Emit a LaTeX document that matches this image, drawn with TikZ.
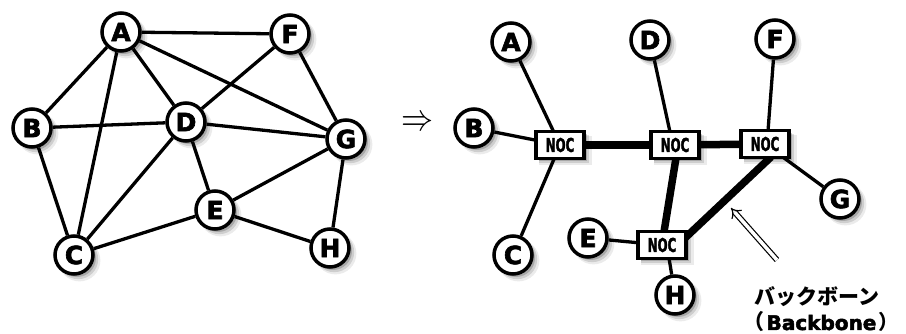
\documentclass[tikz,border=0pt]{standalone}
\usepackage{fontspec}
\setmainfont{Liberation Sans}
\newfontfamily\jpfont{Noto Sans CJK JP}
\newfontfamily\heavyfont[FakeBold=2.5]{DejaVu Sans Bold}
\newfontfamily\nocfont[FakeBold=2]{DejaVu Sans Bold}
\usetikzlibrary{shadows,arrows.meta}
\pgfdeclarelayer{bg}
\pgfdeclarelayer{edges}
\pgfsetlayers{bg,edges,main}
\tikzset{
  shade3/.style={
    drop shadow={shadow xshift=5pt, shadow yshift=-5pt, shadow scale=1.1, opacity=0.08, fill=black},
    drop shadow={shadow xshift=4pt, shadow yshift=-4pt, shadow scale=1.05, opacity=0.12, fill=black},
    drop shadow={shadow xshift=3pt, shadow yshift=-3pt, opacity=0.18, fill=black}},
  host/.style={circle, draw=black, line width=3.5pt, fill=white, minimum size=38pt, inner sep=0pt,
    font=\heavyfont\fontsize{25}{25}\selectfont, shade3},
  noc/.style={rectangle, draw=black, line width=3.3pt, fill=white, minimum width=48pt, minimum height=27pt, inner sep=0pt,
    font=\nocfont\fontsize{19}{19}\selectfont, shade3},
  link/.style={line width=3.3pt, black},
  bone/.style={line width=7.5pt, black},
}
\newcommand{\noctext}{\scalebox{0.62}[1]{NOC}}
\begin{document}
\begin{tikzpicture}[x=1pt,y=-1pt]
\begin{pgfonlayer}{bg}
\fill[white] (0,0) rectangle (906,334);
\end{pgfonlayer}
\useasboundingbox (0,0) rectangle (906,334);
% left graph
\node[host] (lA) at (121,32) {A};
\node[host] (lF) at (290,34) {F};
\node[host] (lB) at (32,128) {B};
\node[host] (lD) at (186,122) {D};
\node[host] (lG) at (346,139) {G};
\node[host] (lE) at (215,210) {E};
\node[host] (lC) at (74,255) {C};
\node[host] (lH) at (330,248) {H};
\begin{pgfonlayer}{edges}
\draw[link] (lA) -- (lF);
\draw[link] (lA) -- (lB);
\draw[link] (lA) -- (lC);
\draw[link] (lA) -- (lD);
\draw[link] (lA) -- (lG);
\draw[link] (lF) -- (lD);
\draw[link] (lF) -- (lG);
\draw[link] (lB) -- (lD);
\draw[link] (lB) -- (lC);
\draw[link] (lD) -- (lG);
\draw[link] (lD) -- (lC);
\draw[link] (lD) -- (lE);
\draw[link] (lE) -- (lG);
\draw[link] (lE) -- (lC);
\draw[link] (lE) -- (lH);
\draw[link] (lG) -- (lH);
\end{pgfonlayer}
% arrow sign
\node[inner sep=0pt] (imp) at (417,124) {\scalebox{3.2}[3.8]{$\Rightarrow$}};
% right graph
\node[host] (rA) at (511,42) {A};
\node[host] (rD) at (650,40) {D};
\node[host] (rF) at (775,39) {F};
\node[host] (rB) at (474,128) {B};
\node[host] (rG) at (840,199) {G};
\node[host] (rE) at (588,238) {E};
\node[host] (rC) at (513,255) {C};
\node[host] (rH) at (675,295) {H};
\node[noc] (n1) at (560,145) {\noctext};
\node[noc] (n2) at (675,145) {\noctext};
\node[noc] (n3) at (765,144) {\noctext};
\node[noc] (n4) at (662,245) {\noctext};
\coordinate (n2t) at (670,132);
\coordinate (n2b) at (676,158);
\coordinate (n3t) at (768,131);
\coordinate (n3b) at (771,157);
\coordinate (n4t) at (664,232);
\coordinate (n4r) at (685,238);
\coordinate (n4b) at (669,258);
\begin{pgfonlayer}{edges}
\draw[link] (rA) -- (n1.center);
\draw[link] (rB) -- (n1.center);
\draw[link] (rC) -- (n1.center);
\draw[link] (rD) -- (n2t);
\draw[link] (rF) -- (n3t);
\draw[link] (rG) -- (n3.center);
\draw[link] (rE) -- (n4.center);
\draw[link] (rH) -- (n4b);
\draw[bone] (n1.center) -- (n2.center);
\draw[bone] (n2.center) -- (n3.center);
\draw[bone] (n2b) -- (n4t);
\draw[bone] (n3b) -- (n4r);
\end{pgfonlayer}
% backbone pointer
\coordinate (ptail) at (777,260);
\coordinate (phead) at (731,208);
\draw[double, double distance=3.5pt, line width=1.2pt, -{Implies}] (ptail) -- (phead);
\node[font=\jpfont\bfseries\fontsize{21}{21}\selectfont] (lbl1) at (817,297) {バックボーン};
\node[font=\fontsize{21}{21}\selectfont] (lbl2) at (821,322) {{\jpfont\bfseries （}\hspace{2pt}\heavyfont\fontsize{20}{20}\selectfont Backbone\hspace{2pt}{\jpfont\bfseries ）}};
\end{tikzpicture}
\end{document}
